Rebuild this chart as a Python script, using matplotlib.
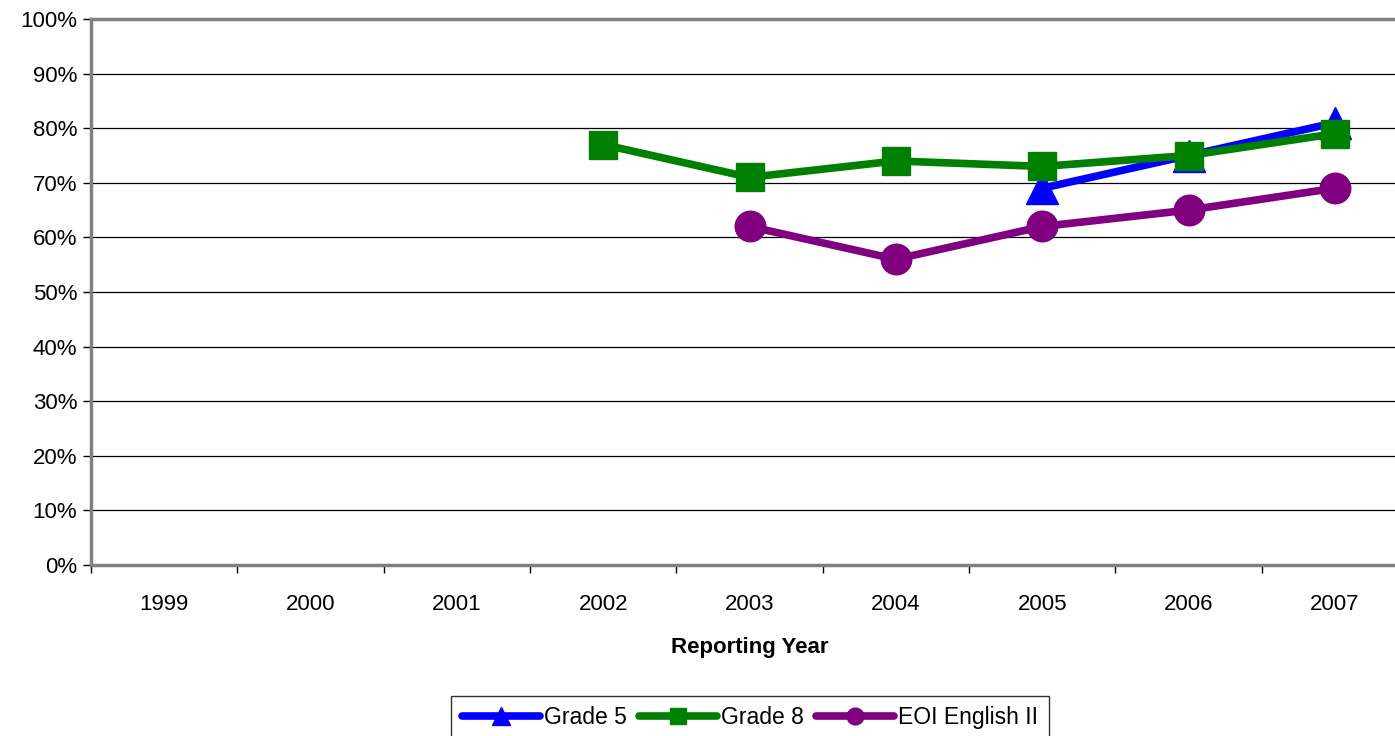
import matplotlib
matplotlib.use("Agg")
import matplotlib.pyplot as plt
import numpy as np

years = ["1999", "2000", "2001", "2002", "2003", "2004", "2005", "2006", "2007"]
grade5 = [None, None, None, None, None, None, 69, 75, 81]
grade8 = [None, None, None, 77, 71, 74, 73, 75, 79]
eoi = [None, None, None, None, 62, 56, 62, 65, 69]

plt.rcParams["font.family"] = ["Liberation Sans", "DejaVu Sans"]


def to_arr(vals):
    return np.array([np.nan if v is None else v for v in vals], dtype=float)


fig = plt.figure(figsize=(13.95, 7.36), dpi=100)
ax = fig.add_axes([91 / 1395, 171 / 736, 1317 / 1395, 546 / 736])

x = np.arange(len(years)) + 0.5
series = [
    ("Grade 5", grade5, "blue", "^", 23),
    ("Grade 8", grade8, "green", "s", 20),
    ("EOI English II", eoi, "purple", "o", 22),
]
for label, vals, color, marker, ms in series:
    ax.plot(x, to_arr(vals), color=color, lw=5.5, marker=marker, ms=ms,
            mfc=color, mec=color, label=label, solid_capstyle="round", clip_on=False)

ax.set_xlim(0, len(years))
ax.set_ylim(0, 100)
ax.set_yticks(np.arange(0, 101, 10))
ax.set_yticklabels([f"{v}%" for v in range(0, 101, 10)], fontsize=16)
ax.set_xticks(np.arange(0, len(years) + 1))
ax.set_xticklabels([])
ax.set_xticks(x, minor=True)
ax.set_xticklabels(years, minor=True, fontsize=16)
ax.tick_params(axis="x", which="minor", length=0, pad=21)
ax.tick_params(axis="x", which="major", length=6, width=1, direction="out")
ax.tick_params(axis="y", length=6, width=1, direction="out", pad=4)
ax.yaxis.grid(True, color="black", lw=0.9)
ax.set_axisbelow(True)
ax.set_xlabel("Reporting Year", fontsize=16, fontweight="bold", labelpad=16)

for s in ["top", "left", "bottom"]:
    ax.spines[s].set_color("#808080")
    ax.spines[s].set_linewidth(2.5)
ax.spines["right"].set_visible(False)

leg = fig.legend(loc="lower center", bbox_to_anchor=(750 / 1395, -0.02), ncol=3,
                 fontsize=16.5, frameon=True, fancybox=False, edgecolor="black",
                 handlelength=3.4, handletextpad=0.17, columnspacing=0.55,
                 borderpad=0.45, markerscale=0.55)
leg.get_frame().set_linewidth(1)

fig.savefig("out.png", dpi=100)
